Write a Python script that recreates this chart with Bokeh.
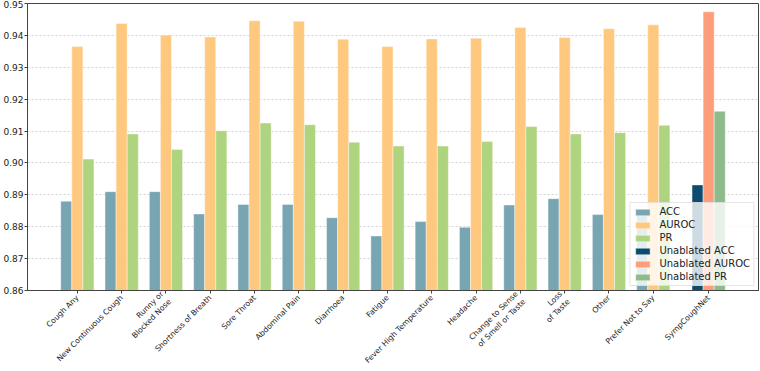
import math

from bokeh.embed import file_html
from bokeh.models import FixedTicker, Legend, LegendItem, PrintfTickFormatter, Range1d
from bokeh.plotting import figure
from bokeh.resources import INLINE

# Symptom ablation results (one symptom removed per group)
symptoms = [
    "Cough Any", "New Continuous Cough", "Runny or\nBlocked Nose",
    "Shortness of Breath", "Sore Throat", "Abdominal Pain", "Diarrhoea",
    "Fatigue", "Fever High Temperature", "Headache",
    "Change to Sense\nof Smell or Taste", "Loss\nof Taste", "Other",
    "Prefer Not to Say",
]
acc = [0.8880, 0.8910, 0.8910, 0.8840, 0.8870, 0.8870, 0.8828, 0.8771,
       0.8816, 0.8798, 0.8868, 0.8888, 0.8838, 0.8840]
auroc = [0.9365, 0.9437, 0.9401, 0.9395, 0.9446, 0.9444, 0.9388, 0.9365,
         0.9389, 0.9391, 0.9425, 0.9393, 0.9421, 0.9433]
pr = [0.9012, 0.9091, 0.9042, 0.9101, 0.9125, 0.9120, 0.9065, 0.9053,
      0.9053, 0.9067, 0.9114, 0.9091, 0.9095, 0.9118]

# Full model (no symptom removed)
full_name = "SympCoughNet"
full_acc = 0.8931
full_auroc = 0.9474
full_pr = 0.9162

y_ticks = [0.86, 0.87, 0.88, 0.89, 0.90, 0.91, 0.92, 0.93, 0.94, 0.95]

BAR_W = 0.25
n = len(symptoms)
centers = list(range(n))
full_center = n + BAR_W

p = figure(
    width=760, height=371, output_backend="svg", toolbar_location=None,
    x_range=Range1d(-1.125, 15.375), y_range=Range1d(0.86, 0.95),
)
p.min_border_left = 0
p.min_border_right = 2
p.min_border_top = 3
p.min_border_bottom = 0
p.background_fill_color = "white"
p.border_fill_color = "white"
p.outline_line_color = "#444444"
p.outline_line_width = 1

colors = {
    "ACC": "#78a5b2", "AUROC": "#fec97f", "PR": "#aed47f",
    "uACC": "#0d4c6e", "uAUROC": "#fe9d79", "uPR": "#8dbb8b",
}

def bars(xs, tops, color):
    return p.vbar(x=xs, top=tops, bottom=0, width=BAR_W,
                  fill_color=color, line_color="white", line_width=0.6, line_alpha=0.7)

r_acc = bars([c - BAR_W for c in centers], acc, colors["ACC"])
r_auc = bars(centers, auroc, colors["AUROC"])
r_pr = bars([c + BAR_W for c in centers], pr, colors["PR"])
r_uacc = bars([full_center - BAR_W], [full_acc], colors["uACC"])
r_uauc = bars([full_center], [full_auroc], colors["uAUROC"])
r_upr = bars([full_center + BAR_W], [full_pr], colors["uPR"])

# Axes
tick_pos = centers + [full_center]
labels = symptoms + [full_name]
p.xaxis.ticker = FixedTicker(ticks=tick_pos)
p.xaxis.major_label_overrides = {t: lab for t, lab in zip(tick_pos, labels)}
p.xaxis.major_label_orientation = math.pi / 4
p.xaxis.minor_tick_line_color = None
p.xaxis.major_tick_in = 0
p.xaxis.major_tick_out = 3
p.xaxis.major_label_standoff = 3
p.xaxis.axis_label_standoff = 0
p.xaxis.major_label_text_font = "DejaVu Sans"
p.xaxis.major_label_text_font_size = "7.7px"
p.xaxis.major_label_text_color = "#222222"
p.xaxis.axis_line_color = "#444444"
p.xaxis.major_tick_line_color = "#444444"

p.yaxis.ticker = FixedTicker(ticks=y_ticks)
p.yaxis.formatter = PrintfTickFormatter(format="%.2f")
p.yaxis.minor_tick_line_color = None
p.yaxis.major_tick_in = 0
p.yaxis.major_tick_out = 3
p.yaxis.major_label_standoff = 1
p.yaxis.axis_label_standoff = 0
p.yaxis.major_label_text_font = "DejaVu Sans"
p.yaxis.major_label_text_font_size = "9px"
p.yaxis.major_label_text_color = "#222222"
p.yaxis.axis_line_color = "#444444"
p.yaxis.major_tick_line_color = "#444444"

p.xgrid.grid_line_color = None
p.ygrid.grid_line_color = "#d2d2d2"
p.ygrid.grid_line_dash = "2 2"
p.ygrid.grid_line_width = 1

legend = Legend(
    items=[
        LegendItem(label="ACC", renderers=[r_acc]),
        LegendItem(label="AUROC", renderers=[r_auc]),
        LegendItem(label="PR", renderers=[r_pr]),
        LegendItem(label="Unablated ACC", renderers=[r_uacc]),
        LegendItem(label="Unablated AUROC", renderers=[r_uauc]),
        LegendItem(label="Unablated PR", renderers=[r_upr]),
    ],
    location="bottom_right",
)
legend.label_text_font = "DejaVu Sans"
legend.label_text_font_size = "10px"
legend.label_text_color = "#222222"
legend.glyph_width = 18
legend.glyph_height = 8
legend.label_height = 11
legend.label_standoff = 8
legend.spacing = 2
legend.padding = 3
legend.margin = 4
legend.background_fill_color = "white"
legend.background_fill_alpha = 0.8
legend.border_line_color = "#cccccc"
legend.border_line_width = 1
p.add_layout(legend)

open("out.html", "w").write(file_html(p, INLINE))
